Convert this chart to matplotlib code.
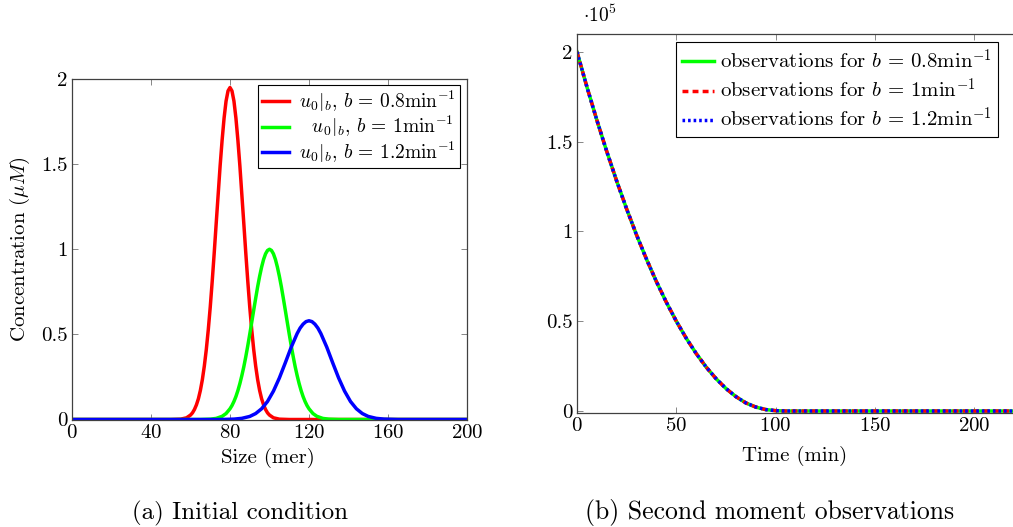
import numpy as np
import matplotlib
matplotlib.use("Agg")
import matplotlib.pyplot as plt
from matplotlib.ticker import FuncFormatter

plt.rcParams["font.family"] = "serif"
plt.rcParams["font.serif"] = ["cmr10"]
plt.rcParams["mathtext.fontset"] = "cm"
plt.rcParams["axes.formatter.use_mathtext"] = True
plt.rcParams.update({'font.size': 15})

# (a) initial condition
size_red = [0, 50, 55, 58, 60, 61, 62, 63, 64, 65, 66, 67, 68, 69, 70, 71, 72, 73, 74, 75, 76, 77, 78, 79, 80,
            81, 82, 83, 84, 85, 86, 87, 88, 89, 90, 91, 92, 93, 94, 95, 96, 97, 98, 99, 100, 102, 105, 110, 200]
conc_red = [0, 0, 0.002, 0.010, 0.026, 0.039, 0.059, 0.086, 0.122, 0.171, 0.234, 0.314, 0.411, 0.527, 0.661,
            0.813, 0.977, 1.15, 1.32, 1.49, 1.64, 1.77, 1.87, 1.93, 1.95,
            1.93, 1.87, 1.77, 1.64, 1.49, 1.32, 1.15, 0.977, 0.813, 0.661, 0.527, 0.411, 0.314, 0.234, 0.171,
            0.122, 0.086, 0.059, 0.039, 0.026, 0.010, 0.002, 0, 0]

size_green = [0, 65, 70, 73, 76, 78, 80, 81, 82, 83, 84, 85, 86, 87, 88, 89, 90, 91, 92, 93, 94, 95, 96, 97, 98, 99, 100,
              101, 102, 103, 104, 105, 106, 107, 108, 109, 110, 111, 112, 113, 114, 115, 116, 117, 118, 119, 120,
              122, 124, 127, 130, 135, 200]
conc_green = [0, 0, 0.002, 0.0064, 0.0186, 0.035, 0.063, 0.082, 0.106, 0.135, 0.170, 0.211, 0.258, 0.310, 0.369,
              0.433, 0.501, 0.571, 0.642, 0.712, 0.780, 0.841, 0.895, 0.940, 0.973, 0.993, 1.0,
              0.993, 0.973, 0.940, 0.895, 0.841, 0.780, 0.712, 0.642, 0.571, 0.501, 0.433, 0.369, 0.310, 0.258,
              0.211, 0.170, 0.135, 0.106, 0.082, 0.063, 0.035, 0.0186, 0.0064, 0.002, 0, 0]

size_blue = [0, 75, 82, 86, 90, 93, 96, 99, 102, 105, 108, 111, 114, 115.5, 117, 118.5, 120,
             121.5, 123, 124.5, 126, 129, 132, 135, 138, 141, 144, 147, 150, 154, 158, 165, 200]
conc_blue = [0, 0, 0.0022, 0.0068, 0.018, 0.035, 0.063, 0.106, 0.167, 0.244, 0.333, 0.425, 0.505, 0.537, 0.560,
             0.575, 0.58, 0.575, 0.560, 0.537, 0.505, 0.425, 0.333, 0.244, 0.167, 0.106, 0.063, 0.035, 0.018,
             0.0068, 0.0022, 0, 0]

# (b) second moment observations (same for the three b values)
time = [0, 5, 10, 15, 20, 25, 30, 35, 40, 45, 50, 55, 60, 65, 70, 75, 80, 85, 90, 95, 100, 105, 230]
moment = [2.0e5, 1.805e5, 1.62e5, 1.445e5, 1.28e5, 1.125e5, 0.98e5, 0.845e5, 0.72e5, 0.605e5, 0.5e5,
          0.405e5, 0.32e5, 0.245e5, 0.18e5, 0.125e5, 0.08e5, 0.045e5, 0.022e5, 0.008e5, 0.002e5, 0, 0]

fig = plt.figure(figsize=(10.13, 5.27), dpi=100)
W, H = 1013, 527
ax1 = fig.add_axes([72 / W, (H - 419.5) / H, (467 - 72) / W, (419.5 - 79) / H])
ax2 = fig.add_axes([577 / W, (H - 413) / H, (1034 - 577) / W, (413 - 34) / H])

lw = 2.5
ax1.plot(size_red, conc_red, color="#ff0000", lw=lw, label=r"$u_0|_b$, $b\,=\,0.8\mathrm{min}^{-1}$")
ax1.plot(size_green, conc_green, color="#00ff00", lw=lw, label=r"  $u_0|_b$, $b\,=\,1\mathrm{min}^{-1}$")
ax1.plot(size_blue, conc_blue, color="#0000ff", lw=lw, label=r"$u_0|_b$, $b\,=\,1.2\mathrm{min}^{-1}$")
ax1.set_xlim(0, 200)
ax1.set_ylim(0, 2)
ax1.set_xticks([0, 40, 80, 120, 160, 200])
ax1.set_yticks([0, 0.5, 1, 1.5, 2])
ax1.set_yticklabels(["0", "0.5", "1", "1.5", "2"])
ax1.set_xlabel("Size (mer)", fontsize=15, va="center")
ax1.xaxis.set_label_coords((268 - 72) / 395, (419.5 - 458) / 340.5)
ax1.set_ylabel(r"Concentration ($\mu M$)", fontsize=15, va="center")
ax1.yaxis.set_label_coords((20 - 72) / 395, 0.5)
leg1 = ax1.legend(loc="upper left", bbox_to_anchor=((258 - 72) / 395, 1 - (85 - 79) / 340.5),
                  borderaxespad=0, fontsize=14, frameon=True, fancybox=False,
                  edgecolor="black", framealpha=1, handlelength=1.4, handletextpad=0.5,
                  borderpad=0.2, labelspacing=0.0)
leg1.get_frame().set_linewidth(0.8)

ax2.plot(time, moment, color="#00ff00", lw=lw, label=r"observations for $b\,=\,0.8\mathrm{min}^{-1}$")
ax2.plot(time, moment, color="#ff0000", lw=lw, ls=(0, (1.7, 1.2)), label=r"observations for $b\,=\,1\mathrm{min}^{-1}$")
ax2.plot(time, moment, color="#0000ff", lw=lw, ls=(0, (0.75, 0.85)), label=r"observations for $b\,=\,1.2\mathrm{min}^{-1}$")
ax2.set_xlim(0, 230)
ax2.set_ylim(-0.011e5, 2.1e5)
ax2.set_xticks([0, 50, 100, 150, 200])
ax2.set_yticks([0, 0.5e5, 1e5, 1.5e5, 2e5])
ax2.yaxis.set_major_formatter(FuncFormatter(lambda v, p: "%g" % (v / 1e5)))
ax2.set_xlabel("Time (min)", fontsize=15, va="center")
ax2.xaxis.set_label_coords((795 - 577) / 457, (413 - 456) / 379)
ax2.text(583 / W, 1 - 15 / H, r"$\cdot 10^5$", transform=fig.transFigure, fontsize=14, ha="left", va="center")
leg2 = ax2.legend(loc="upper left", bbox_to_anchor=((676 - 577) / 457, 1 - (42 - 34) / 379),
                  borderaxespad=0, fontsize=15, frameon=True, fancybox=False,
                  edgecolor="black", framealpha=1, handlelength=1.5, handletextpad=0.3,
                  borderpad=0.3, labelspacing=0.25)
leg2.get_frame().set_linewidth(0.8)

for ax in (ax1, ax2):
    ax.tick_params(direction="in", top=True, right=True, length=4, width=0.6,
                   color="0.45", labelsize=15, pad=3)
    for s in ax.spines.values():
        s.set_linewidth(0.9)
        s.set_color("0.25")

fig.text(240 / W, 1 - 513 / H, "(a) Initial condition", fontsize=18, ha="center", va="center")
fig.text(770 / W, 1 - 513 / H, "(b) Second moment observations", fontsize=18.5, ha="center", va="center")

fig.savefig("out.png", dpi=100)
